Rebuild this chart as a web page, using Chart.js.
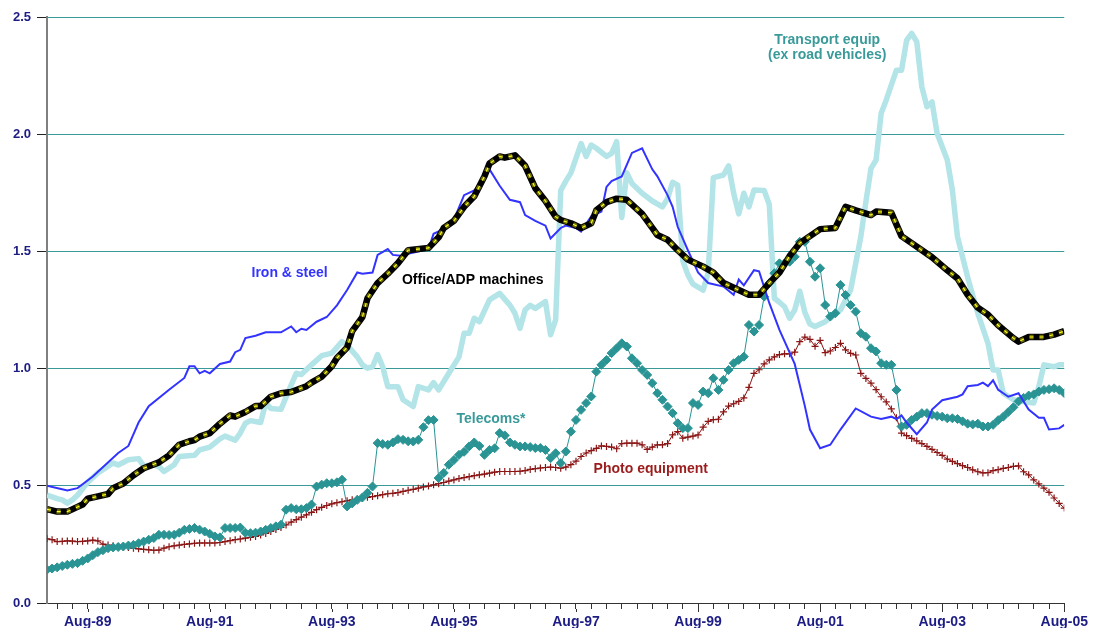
<!DOCTYPE html>
<html><head><meta charset="utf-8">
<script src="https://cdn.jsdelivr.net/npm/chart.js@4/dist/chart.umd.min.js"></script>
<style>html,body{margin:0;padding:0;background:#fff}#wrap{width:1093px;height:628px}</style>
</head><body><div id="wrap"><canvas id="c" width="1093" height="628"></canvas></div>
<script>
// Month index 0 = Dec-88 ... 200 = Aug-05
const xTickMonths = Array.from({length: 67}, (_, k) => 2 + 3 * k);
const xLabelMonths = [8, 32, 56, 80, 104, 128, 152, 176, 200];
const xLabels = ['Aug-89','Aug-91','Aug-93','Aug-95','Aug-97','Aug-99','Aug-01','Aug-03','Aug-05'];
const yTicks = [0, 0.5, 1.0, 1.5, 2.0, 2.5];

const ironMonths = [0,4,6,9,14,16,18,20,24,27,28,29,30,31,32,34,36,37,38,39,41,43,46,48,49,50,51,53,55,57,59,61,62,64,65,67,68,70,71,75,76,77,80,82,84,85,86,87,89,91,93,94,96,98,99,101,102,104,105,107,109,110,111,113,115,117,119,120,122,123,124,126,128,130,133,135,136,137,139,140,142,144,147,149,150,152,154,156,159,162,164,166,167,168,169,171,173,174,176,179,180,181,183,184,185,186,187,188,189,191,193,195,196,197,199,200];
const ironValues = [.50,.48,.49,.54,.64,.67,.77,.84,.91,.96,1.01,1.01,.98,.99,.98,1.02,1.03,1.07,1.08,1.13,1.14,1.155,1.155,1.18,1.155,1.17,1.165,1.20,1.22,1.27,1.335,1.41,1.405,1.41,1.485,1.51,1.485,1.48,1.49,1.51,1.575,1.585,1.635,1.74,1.76,1.785,1.84,1.85,1.78,1.72,1.71,1.655,1.63,1.61,1.555,1.60,1.61,1.60,1.585,1.65,1.67,1.775,1.80,1.82,1.92,1.94,1.85,1.82,1.74,1.69,1.605,1.505,1.41,1.365,1.35,1.315,1.38,1.355,1.42,1.415,1.28,1.165,1.02,.84,.74,.66,.675,.74,.83,.795,.785,.795,.785,.80,.77,.72,.77,.825,.865,.88,.89,.925,.93,.94,.925,.95,.91,.895,.88,.895,.825,.79,.79,.74,.745,.76];

const officeMonths = [0,2,4,6,7,8,10,12,13,15,17,19,22,24,26,28,29,30,32,34,36,37,39,41,42,44,46,48,51,52,54,56,57,59,60,62,63,65,67,69,71,75,77,78,80,82,84,86,87,89,90,92,94,96,98,100,101,103,105,107,108,110,112,114,117,119,120,122,124,126,129,131,133,136,138,140,142,144,146,148,150,152,155,157,159,162,163,166,168,170,174,177,179,181,183,185,187,190,191,193,196,198,200];
const officeValues = [.40,.39,.39,.41,.42,.445,.455,.465,.49,.51,.545,.575,.60,.63,.675,.69,.695,.71,.725,.765,.80,.795,.815,.84,.84,.88,.895,.90,.925,.94,.965,1.01,1.045,1.09,1.16,1.22,1.30,1.365,1.405,1.45,1.505,1.515,1.56,1.60,1.63,1.69,1.735,1.82,1.875,1.905,1.90,1.91,1.865,1.77,1.715,1.648,1.634,1.62,1.60,1.62,1.675,1.71,1.725,1.72,1.66,1.60,1.57,1.55,1.505,1.465,1.435,1.41,1.365,1.335,1.315,1.315,1.365,1.41,1.48,1.535,1.565,1.595,1.60,1.69,1.675,1.655,1.67,1.665,1.565,1.535,1.475,1.42,1.385,1.315,1.26,1.23,1.185,1.13,1.115,1.135,1.135,1.145,1.16];

const transportMonths = [0,2,3,4,5,6,8,10,13,14,16,18,19,21,22,23,25,26,29,30,32,34,35,37,38,39,40,42,43,44,46,48,49,50,52,54,56,58,59,61,62,63,64,65,66,67,69,70,72,73,75,76,77,79,81,82,83,84,85,87,88,89,91,92,93,94,95,96,98,99,100,101,102,103,105,106,107,108,110,111,112,113,114,115,117,119,121,122,123,124,125,126,127,129,130,131,133,134,135,136,137,138,139,141,142,143,144,145,146,147,148,149,150,151,153,155,156,158,160,161,162,163,164,165,167,168,169,170,171,172,173,174,175,177,178,179,181,183,185,186,187,188,190,192,194,195,196,198,199,200];
const transportValues = [.46,.445,.44,.426,.44,.46,.515,.555,.597,.589,.611,.616,.585,.589,.582,.561,.59,.625,.63,.653,.665,.70,.712,.695,.725,.767,.778,.77,.853,.83,.826,.93,.98,.975,1.016,1.055,1.066,1.115,1.10,1.05,1.016,1.002,1.008,1.06,1.008,.923,.923,.867,.838,.923,.909,.94,.909,.98,1.05,1.151,1.151,1.215,1.2,1.293,1.307,1.321,1.271,1.236,1.172,1.25,1.27,1.257,1.286,1.144,1.208,1.76,1.80,1.835,1.96,1.905,1.954,1.94,1.905,1.918,1.968,1.645,1.835,1.79,1.748,1.715,1.69,1.725,1.795,1.783,1.46,1.40,1.36,1.335,1.41,1.815,1.826,1.865,1.748,1.66,1.748,1.69,1.762,1.76,1.70,1.30,1.283,1.264,1.215,1.25,1.33,1.24,1.19,1.18,1.20,1.236,1.25,1.335,1.563,1.712,1.854,1.89,2.089,2.146,2.273,2.273,2.40,2.43,2.394,2.202,2.117,2.138,2.003,1.89,1.762,1.563,1.39,1.236,1.108,.994,.994,.895,.867,.859,.853,.923,1.016,1.008,1.016,1.016];

// monthly, index = month
const telecomsValues = [
.142,.147,.152,.158,.163,.167,.170,.180,.190,.204,
.217,.225,.234,.237,.239,.241,.245,.248,.255,.262,
.270,.277,.291,.291,.290,.291,.300,.312,.316,.320,
.313,.305,.295,.284,.280,.320,.320,.320,.322,.300,
.298,.300,.305,.312,.320,.327,.334,.398,.405,.400,
.400,.405,.420,.497,.505,.511,.511,.515,.526,.412,
.425,.440,.450,.470,.497,.682,.678,.675,.685,.699,
.696,.690,.689,.696,.750,.780,.781,.533,.555,.590,
.610,.632,.645,.668,.685,.670,.632,.653,.660,.725,
.715,.685,.675,.668,.668,.665,.661,.661,.653,.618,
.639,.597,.646,.731,.781,.824,.853,.881,.987,1.016,
1.037,1.066,1.087,1.108,1.094,1.044,1.023,.994,.973,.938,
.895,.867,.838,.810,.767,.746,.746,.853,.845,.902,
.895,.959,.909,.952,.994,1.023,1.037,1.051,1.186,1.158,
1.186,1.307,1.364,1.407,1.449,1.449,1.456,1.477,1.541,1.541,
1.456,1.392,1.428,1.271,1.222,1.236,1.357,1.314,1.271,1.243,
1.151,1.136,1.087,1.073,1.023,1.016,1.016,.909,.753,.760,
.781,.795,.810,.810,.803,.798,.795,.788,.788,.785,
.775,.765,.762,.765,.753,.753,.760,.780,.795,.815,
.835,.860,.875,.885,.890,.902,.909,.912,.916,.909,
.895];

const photoValues = [
.274,.270,.262,.263,.265,.264,.262,.263,.265,.268,
.265,.251,.247,.244,.241,.239,.237,.234,.231,.229,
.227,.225,.226,.234,.240,.244,.247,.250,.252,.255,
.256,.256,.256,.256,.258,.262,.266,.270,.273,.277,
.280,.284,.290,.297,.305,.314,.322,.333,.345,.356,
.366,.376,.387,.398,.408,.416,.423,.428,.432,.436,
.440,.444,.447,.451,.454,.458,.462,.466,.468,.471,
.476,.481,.485,.490,.495,.499,.504,.509,.514,.520,
.525,.531,.535,.539,.543,.547,.550,.554,.558,.561,
.561,.561,.561,.562,.565,.570,.573,.576,.578,.580,
.578,.575,.580,.590,.605,.625,.640,.650,.660,.670,
.668,.665,.658,.680,.682,.682,.682,.675,.655,.665,
.675,.675,.680,.717,.731,.703,.708,.712,.717,.750,
.775,.782,.784,.815,.840,.850,.860,.875,.920,.980,
.995,1.020,1.037,1.050,1.060,1.063,1.063,1.070,1.115,1.134,
1.125,1.095,1.120,1.068,1.075,1.090,1.108,1.080,1.065,1.058,
.980,.958,.938,.910,.880,.858,.828,.790,.725,.714,
.702,.692,.680,.668,.655,.642,.630,.614,.604,.595,
.586,.578,.568,.560,.555,.556,.565,.569,.574,.578,
.583,.585,.560,.547,.525,.508,.490,.472,.448,.425,
.405];

const seriesLabels = [
  {lines:['Iron & steel'], month:47.7, value:1.408, color:'#3333ff'},
  {lines:['Office/ADP machines'], month:83.7, value:1.378, color:'#000000'},
  {lines:['Transport equip','(ex road vehicles)'], month:153.4, value:2.40, color:'#3a9a9a'},
  {lines:['Telecoms*'], month:87.3, value:0.786, color:'#3a9a9a'},
  {lines:['Photo equipment'], month:118.7, value:0.573, color:'#9b1c1c'}
];

const pts = (ms, vs) => ms.map((m, i) => ({x: m, y: vs[i]}));
const monthly = vs => vs.map((v, i) => ({x: i, y: v}));
const FONT = '"Liberation Sans", Arial, sans-serif';
const NAVY = '#1c1c84';

const labelPlugin = {
  id: 'seriesLabels',
  afterDatasetsDraw(chart) {
    const ctx = chart.ctx, xs = chart.scales.x, ys = chart.scales.y;
    ctx.save();
    ctx.font = 'bold 14px ' + FONT;
    ctx.textAlign = 'center';
    ctx.textBaseline = 'middle';
    seriesLabels.forEach(l => {
      const px = xs.getPixelForValue(l.month), py = ys.getPixelForValue(l.value);
      ctx.fillStyle = l.color;
      l.lines.forEach((t, k) => ctx.fillText(t, px, py + k * 15));
    });
    ctx.restore();
  },
  afterDraw(chart) {
    const ctx = chart.ctx, xs = chart.scales.x, b = chart.chartArea.bottom;
    ctx.save();
    ctx.strokeStyle = '#333';
    ctx.lineWidth = 1;
    xLabelMonths.forEach(m => {
      const px = Math.round(xs.getPixelForValue(m)) + 0.5;
      ctx.beginPath(); ctx.moveTo(px, b + 6); ctx.lineTo(px, b + 9); ctx.stroke();
    });
    ctx.restore();
  }
};

new Chart(document.getElementById('c'), {
  type: 'line',
  data: {
    datasets: [
      {label:'Office yellow', data: pts(officeMonths, officeValues), borderColor:'#ffff20', borderWidth:1.1, borderDash:[4,6], pointRadius:0, tension:0},
      {label:'Office olive', data: pts(officeMonths, officeValues), borderColor:'#6e6e00', borderWidth:4.5, borderDash:[4,6], pointRadius:0, tension:0},
      {label:'Office/ADP machines', data: pts(officeMonths, officeValues), borderColor:'#000000', borderWidth:6.5, pointRadius:0, tension:0, borderJoinStyle:'round'},
      {label:'Iron & steel', data: pts(ironMonths, ironValues), borderColor:'#3333ff', borderWidth:2, pointRadius:0, tension:0},
      {label:'Telecoms*', data: monthly(telecomsValues), borderColor:'#2a9494', borderWidth:1, pointStyle:'rectRot', pointRadius:4.5, pointBackgroundColor:'#2a9494', pointBorderColor:'#2a9494', pointBorderWidth:1, tension:0},
      {label:'Photo equipment', data: monthly(photoValues), borderColor:'#8b1414', borderWidth:1, pointStyle:'cross', pointRadius:3.5, pointBorderColor:'#8b1414', pointBorderWidth:1.2, tension:0},
      {label:'Transport equip (ex road vehicles)', data: pts(transportMonths, transportValues), borderColor:'#b3e4e7', borderWidth:5.5, pointRadius:0, tension:0, borderJoinStyle:'round'}
    ]
  },
  options: {
    responsive: false,
    animation: false,
    devicePixelRatio: 1,
    layout: {padding: {top: 17, right: 27, left: 0, bottom: 0}},
    plugins: {legend: {display: false}, tooltip: {enabled: false}},
    scales: {
      x: {
        type: 'linear', min: 0, max: 200,
        afterBuildTicks: s => { s.ticks = xTickMonths.map(v => ({value: v})); },
        afterFit: s => { s.height = 25; },
        ticks: {
          autoSkip: false, maxRotation: 0, padding: 5, color: NAVY,
          font: {family: FONT, size: 14, weight: 'bold'},
          callback: v => { const k = xLabelMonths.indexOf(v); return k >= 0 ? xLabels[k] : ''; }
        },
        grid: {drawOnChartArea: false, drawTicks: true, tickLength: 6, color: '#333'},
        border: {display: true, color: '#333', width: 1}
      },
      y: {
        min: 0, max: 2.5,
        afterBuildTicks: s => { s.ticks = yTicks.map(v => ({value: v})); },
        afterFit: s => { s.width = 47; },
        ticks: {
          color: NAVY, padding: 6,
          font: {family: FONT, size: 13, weight: 'bold'},
          callback: v => Number(v).toFixed(1)
        },
        grid: {
          color: c => (c.tick && c.tick.value === 0) ? 'rgba(0,0,0,0)' : '#3a9a9a',
          tickColor: '#222', tickLength: 10, lineWidth: 1
        },
        border: {display: true, color: '#808080', width: 2}
      }
    }
  },
  plugins: [labelPlugin]
});
</script></body></html>
